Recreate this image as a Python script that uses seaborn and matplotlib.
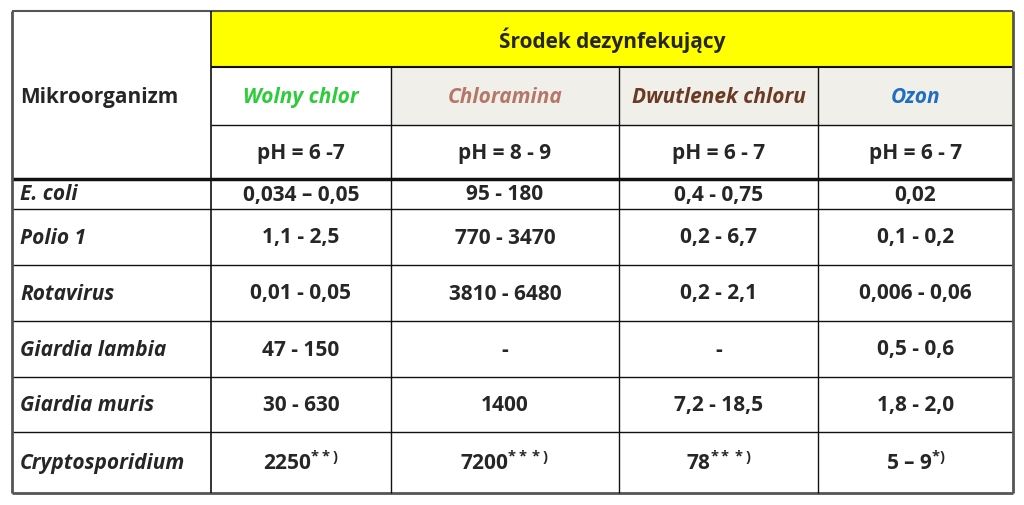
import matplotlib
matplotlib.use("Agg")
import matplotlib.pyplot as plt
import seaborn as sns
from matplotlib.patches import Rectangle

sns.set_theme(style="white")
plt.rcParams['font.family'] = ['Open Sans', 'DejaVu Sans']
plt.rcParams['mathtext.fontset'] = 'custom'
plt.rcParams['mathtext.bf'] = 'Open Sans:bold'
plt.rcParams['mathtext.rm'] = 'Open Sans:bold'

title = "Środek dezynfekujący"
row_header = "Mikroorganizm"
agents = ["Wolny chlor", "Chloramina", "Dwutlenek chloru", "Ozon"]
agent_colors = ["#2ecc3a", "#b57868", "#6b3a22", "#1f6fc0"]
agent_bg = ["#ffffff", "#f0efea", "#f0efea", "#f0efea"]
ph = ["pH = 6 -7", "pH = 8 - 9", "pH = 6 - 7", "pH = 6 - 7"]
organisms = ["E. coli", "Polio 1", "Rotavirus", "Giardia lambia", "Giardia muris", "Cryptosporidium"]
wolny = ["0,034 – 0,05", "1,1 - 2,5", "0,01 - 0,05", "47 - 150", "30 - 630", "2250$^{**)}$"]
chloramina = ["95 - 180", "770 - 3470", "3810 - 6480", "-", "1400", "7200$^{***)}$"]
dwutlenek = ["0,4 - 0,75", "0,2 - 6,7", "0,2 - 2,1", "-", "7,2 - 18,5", "78$^{***)}$"]
ozon = ["0,02", "0,1 - 0,2", "0,006 - 0,06", "0,5 - 0,6", "1,8 - 2,0", "5 – 9$^{*)}$"]

W, H = 1024, 506
fig = plt.figure(figsize=(W/100, H/100), dpi=100)
ax = fig.add_axes([0, 0, 1, 1])
ax.set_xlim(0, W); ax.set_ylim(H, 0); ax.axis('off')

xs = [12, 211, 391, 619, 818, 1013]
ys = [12, 68, 126, 180, 210, 266, 322, 378, 433, 494]

# fills
ax.add_patch(Rectangle((xs[1], ys[0]), xs[5]-xs[1], ys[1]-ys[0], color="#ffff00", zorder=0))
for i in range(4):
    ax.add_patch(Rectangle((xs[i+1], ys[1]), xs[i+2]-xs[i+1], ys[2]-ys[1], color=agent_bg[i], zorder=0))

lc = "#111111"
# horizontal lines
ax.hlines(ys[0], xs[0], xs[5], color="#555555", lw=1.5)
ax.hlines(ys[1], xs[1], xs[5], color=lc, lw=1.5)
ax.hlines(ys[2], xs[1], xs[5], color=lc, lw=1)
ax.hlines(ys[3], xs[0], xs[5], color=lc, lw=2.5)
for y in ys[4:-1]:
    ax.hlines(y, xs[0], xs[5], color=lc, lw=1)
ax.hlines(ys[-1], xs[0], xs[5], color="#555555", lw=2)
# vertical lines
ax.vlines([xs[0], xs[5]], ys[0], ys[-1], color="#555555", lw=2)
ax.vlines(xs[1], ys[0], ys[-1], color=lc, lw=1.2)
for x in xs[2:5]:
    ax.vlines(x, ys[1], ys[-1], color=lc, lw=1)

fs = 15
ax.text((xs[1]+xs[5])/2, (ys[0]+ys[1])/2, title, ha='center', va='center', fontsize=fs, fontweight='bold')
ax.text(xs[0]+8, (ys[1]+ys[2])/2, row_header, ha='left', va='center', fontsize=fs, fontweight='bold')
for i in range(4):
    cx = (xs[i+1]+xs[i+2])/2
    ax.text(cx, (ys[1]+ys[2])/2, agents[i], ha='center', va='center', fontsize=fs,
            fontweight='bold', style='italic', color=agent_colors[i])
    ax.text(cx, (ys[2]+ys[3])/2, ph[i], ha='center', va='center', fontsize=fs, fontweight='bold')
cols = [wolny, chloramina, dwutlenek, ozon]
for r, org in enumerate(organisms):
    cy = (ys[3+r]+ys[4+r])/2
    ax.text(xs[0]+8, cy, org, ha='left', va='center', fontsize=fs, fontweight='bold', style='italic')
    for i in range(4):
        ax.text((xs[i+1]+xs[i+2])/2, cy, cols[i][r], ha='center', va='center', fontsize=fs, fontweight='bold')

fig.savefig("out.png", dpi=100, facecolor='white')
